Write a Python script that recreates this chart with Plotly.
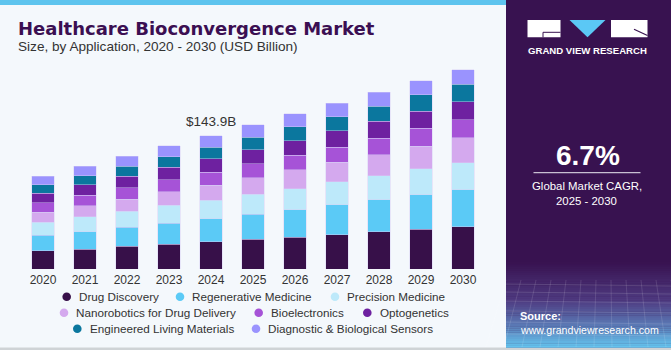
import plotly.graph_objects as go

# ---------------- data ----------------
years = ["2020", "2021", "2022", "2023", "2024", "2025", "2026", "2027", "2028", "2029", "2030"]
series_names = ["Drug Discovery", "Regenerative Medicine", "Precision Medicine",
                "Nanorobotics for Drug Delivery", "Bioelectronics", "Optogenetics",
                "Engineered Living Materials", "Diagnostic & Biological Sensors"]
drug_discovery = [19.8, 21.6, 24.5, 27.0, 29.2, 32.1, 34.2, 37.1, 40.0, 42.9, 45.7]
regenerative_medicine = [16.5, 18.7, 20.5, 22.4, 25.2, 27.0, 29.9, 32.4, 34.9, 37.5, 40.0]
precision_medicine = [14.0, 15.9, 17.3, 19.4, 19.8, 21.6, 22.7, 24.5, 25.9, 27.8, 29.2]
nanorobotics = [10.8, 12.2, 13.3, 14.4, 16.5, 18.0, 20.2, 21.3, 22.7, 24.5, 26.7]
bioelectronics = [10.5, 11.1, 12.2, 13.0, 14.0, 15.1, 15.9, 16.5, 18.0, 19.1, 19.8]
optogenetics = [10.0, 11.6, 12.2, 13.7, 14.4, 15.1, 15.9, 17.3, 18.0, 18.4, 19.4]
engineered_living = [9.4, 9.7, 10.8, 11.6, 12.2, 13.7, 14.8, 15.4, 16.5, 18.0, 18.7]
diagnostic_sensors = [9.4, 10.0, 10.8, 11.9, 12.6, 13.0, 14.0, 14.4, 15.1, 15.4, 15.9]
series_values = [drug_discovery, regenerative_medicine, precision_medicine, nanorobotics,
                 bioelectronics, optogenetics, engineered_living, diagnostic_sensors]
highlight_year = "2024"
highlight_label = "$143.9B"
cagr_value = "6.7%"
cagr_text = ["Global Market CAGR,", "2025 - 2030"]

colors = ["#371049", "#5bcaf6", "#bde9fa", "#d4a9ee", "#a653d7", "#6e21a0", "#0b779e", "#9a93fe"]

# ---------------- geometry ----------------
W, H = 671, 350
L, R, T, B = 22, 187, 60, 81
PW, PH = W - L - R, H - T - B
YMAX = 225.8


def px(x):
    return (x - L) / PW


def py(y):
    return (H - B - y) / PH


fig = go.Figure()
for name, vals, col in zip(series_names, series_values, colors):
    fig.add_trace(go.Bar(x=years, y=vals, name=name, marker_color=col,
                         marker_line=dict(color="rgba(215,205,245,0.55)", width=0.8),
                         showlegend=False))

shapes = []
annotations = []

# card background details
shapes.append(dict(type="rect", xref="paper", yref="paper", x0=px(0), x1=px(506), y0=py(5), y1=py(0),
                   fillcolor="#5ec4ee", line_width=0, layer="below"))
shapes.append(dict(type="rect", xref="paper", yref="paper", x0=px(0), x1=px(671), y0=py(350), y1=py(347.5),
                   fillcolor="#cfd3d6", line_width=0, layer="below"))

# right panel
shapes.append(dict(type="rect", xref="paper", yref="paper", x0=px(506), x1=px(671), y0=py(347.5), y1=py(0),
                   fillcolor="#381250", line_width=0, layer="below"))


def hexmix(c1, c2, t):
    a = [int(c1[i:i + 2], 16) for i in (1, 3, 5)]
    b = [int(c2[i:i + 2], 16) for i in (1, 3, 5)]
    return "#%02x%02x%02x" % tuple(round(a[k] + (b[k] - a[k]) * t) for k in range(3))


stops = [(262, "#381250"), (300, "#4e3a80"), (325, "#5a78b4"), (347.5, "#64c6ef")]
n = 40
y0g, y1g = 262, 347.5
for i in range(n):
    ya = y0g + (y1g - y0g) * i / n
    yb = y0g + (y1g - y0g) * (i + 1) / n
    ym = (ya + yb) / 2
    for j in range(len(stops) - 1):
        if stops[j][0] <= ym <= stops[j + 1][0]:
            t = (ym - stops[j][0]) / (stops[j + 1][0] - stops[j][0])
            c = hexmix(stops[j][1], stops[j + 1][1], t)
            break
    shapes.append(dict(type="rect", xref="paper", yref="paper", x0=px(506), x1=px(671), y0=py(yb + 0.3), y1=py(ya),
                       fillcolor=c, line_width=0, layer="below"))
# faint grid in gradient
for yy in [284, 292, 301, 311, 322, 334]:
    shapes.append(dict(type="line", xref="paper", yref="paper", x0=px(506), x1=px(671), y0=py(yy), y1=py(yy + 2),
                       line=dict(color="rgba(255,255,255,0.13)", width=1), layer="below"))
for k in range(12):
    xa = 506 + k * 15
    shapes.append(dict(type="line", xref="paper", yref="paper", x0=px(xa), x1=px(xa - 20 + k * 3), y0=py(280),
                       y1=py(347), line=dict(color="rgba(255,255,255,0.12)", width=1), layer="below"))

# logo
shapes.append(dict(type="rect", xref="paper", yref="paper", x0=px(527.5), x1=px(560.5), y0=py(37.3), y1=py(20),
                   fillcolor="white", line_width=0))
shapes.append(dict(type="line", xref="paper", yref="paper", x0=px(543), x1=px(560.5), y0=py(32.3), y1=py(32.3),
                   line=dict(color="#381250", width=1)))
shapes.append(dict(type="line", xref="paper", yref="paper", x0=px(543), x1=px(543), y0=py(32.3), y1=py(37.3),
                   line=dict(color="#381250", width=1)))
shapes.append(dict(type="path", xref="paper", yref="paper",
                   path="M %f,%f L %f,%f L %f,%f Z" % (px(569.5), py(20), px(605.5), py(20), px(587.5), py(37.3)),
                   fillcolor="#5bc8f5", line_width=0))
shapes.append(dict(type="rect", xref="paper", yref="paper", x0=px(611), x1=px(647.5), y0=py(37.3), y1=py(20),
                   fillcolor="white", line_width=0))
shapes.append(dict(type="line", xref="paper", yref="paper", x0=px(634), x1=px(647.5), y0=py(29.3), y1=py(35.5),
                   line=dict(color="#381250", width=1.2)))
annotations.append(dict(x=px(587.5), y=py(50.7), xref="paper", yref="paper", text="<b>GRAND VIEW RESEARCH</b>",
                        showarrow=False, xanchor="center", yanchor="middle",
                        font=dict(family="Liberation Sans", size=9.6, color="white")))

# CAGR
annotations.append(dict(x=px(587.5), y=py(155), xref="paper", yref="paper", text="<b>%s</b>" % cagr_value,
                        showarrow=False, xanchor="center", yanchor="middle",
                        font=dict(family="Liberation Sans", size=28, color="white")))
shapes.append(dict(type="line", xref="paper", yref="paper", x0=px(533.5), x1=px(640.5), y0=py(172.7), y1=py(172.7),
                   line=dict(color="#c8bfd2", width=1.2)))
annotations.append(dict(x=px(586.5), y=py(185.5), xref="paper", yref="paper", text=cagr_text[0],
                        showarrow=False, xanchor="center", yanchor="middle",
                        font=dict(family="Liberation Sans", size=11.4, color="white")))
annotations.append(dict(x=px(586.5), y=py(200.5), xref="paper", yref="paper", text=cagr_text[1],
                        showarrow=False, xanchor="center", yanchor="middle",
                        font=dict(family="Liberation Sans", size=11.4, color="white")))

# source
annotations.append(dict(x=px(518), y=py(315.5), xref="paper", yref="paper", text="<b>Source:</b>",
                        showarrow=False, xanchor="left", yanchor="middle",
                        font=dict(family="Liberation Sans", size=11, color="white")))
annotations.append(dict(x=px(518), y=py(330), xref="paper", yref="paper", text="www.grandviewresearch.com",
                        showarrow=False, xanchor="left", yanchor="middle",
                        font=dict(family="Liberation Sans", size=10.6, color="white")))

# titles
annotations.append(dict(x=px(15.5), y=py(28), xref="paper", yref="paper",
                        text="<b>Healthcare Bioconvergence Market</b>",
                        showarrow=False, xanchor="left", yanchor="middle",
                        font=dict(family="DejaVu Sans", size=18, color="#3b0f52")))
annotations.append(dict(x=px(15.5), y=py(46.5), xref="paper", yref="paper",
                        text="Size, by Application, 2020 - 2030 (USD Billion)",
                        showarrow=False, xanchor="left", yanchor="middle",
                        font=dict(family="Liberation Sans", size=13.6, color="#333333")))

# highlight label
idx = years.index(highlight_year)
total = sum(v[idx] for v in series_values)
annotations.append(dict(x=idx, y=total, xref="x", yref="y", text=highlight_label,
                        showarrow=False, xanchor="center", yanchor="bottom", yshift=5,
                        font=dict(family="Liberation Sans", size=13.5, color="#333333")))

# manual legend
legend_rows = [(296.7, [(0, 66.7), (1, 180), (2, 335)]),
               (312.7, [(3, 64), (4, 258.7), (5, 367.3)]),
               (328.7, [(6, 77.3), (7, 256)])]
r = 4.3
for yy, items in legend_rows:
    for si, mx in items:
        shapes.append(dict(type="circle", xref="paper", yref="paper", x0=px(mx - r), x1=px(mx + r),
                           y0=py(yy + r), y1=py(yy - r), fillcolor=colors[si], line_width=0))
        annotations.append(dict(x=px(mx + 10.3), y=py(yy), xref="paper", yref="paper", text=series_names[si],
                                showarrow=False, xanchor="left", yanchor="middle",
                                font=dict(family="Liberation Sans", size=11.7, color="#333333")))

fig.update_layout(
    width=W, height=H, barmode="stack", bargap=0.453,
    margin=dict(l=L, r=R, t=T, b=B, autoexpand=False),
    paper_bgcolor="#f4f8fc", plot_bgcolor="rgba(0,0,0,0)",
    showlegend=False, shapes=shapes, annotations=annotations,
    xaxis=dict(type="category", range=[-0.5, len(years) - 0.5], autorange=False,
               showgrid=False, zeroline=False, showline=False, ticks="", ticklabelstandoff=2,
               tickfont=dict(family="Liberation Sans", size=12, color="#333333")),
    yaxis=dict(range=[0, YMAX], autorange=False, visible=False, showgrid=False, zeroline=False),
)

fig.write_html("out.html")
